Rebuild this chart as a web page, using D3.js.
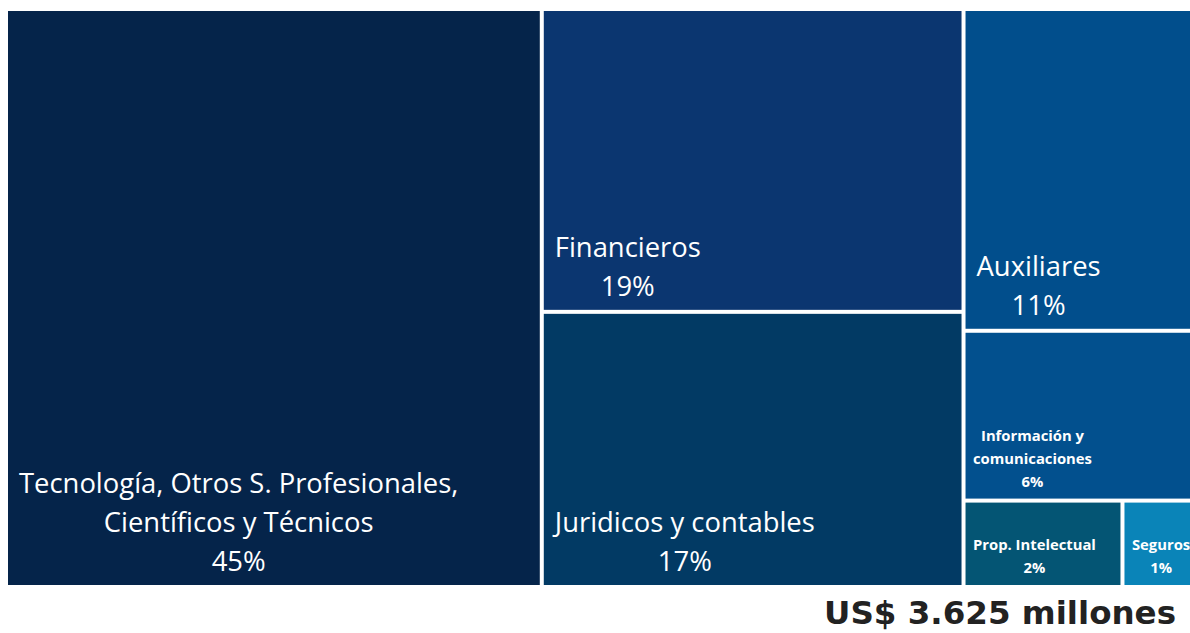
<!DOCTYPE html>
<html>
<head>
<meta charset="utf-8">
<script src="https://cdn.jsdelivr.net/npm/d3@7"></script>
<style>
  html, body { margin: 0; padding: 0; background: #ffffff; overflow: hidden; }
  svg { display: block; }
</style>
</head>
<body>
<svg id="chart" width="1190" height="633"></svg>
<script>
// ---- data ----
const categories = [
  "Tecnología, Otros S. Profesionales,\nCientíficos y Técnicos",
  "Financieros",
  "Juridicos y contables",
  "Auxiliares",
  "Información y\ncomunicaciones",
  "Prop. Intelectual",
  "Seguros"
];
const shares = [45.1, 18.6, 16.9, 10.8, 5.7, 2.0, 0.9]; // % of total exports
const colors = ["#05244a", "#0b3670", "#023a64", "#014e8c", "#02508e", "#045574", "#0a84b8"];
const sizeClass = ["big", "big", "big", "big", "small", "small", "small"];
const groups = [[0], [1, 2], [3, 4, [5, 6]]];
const totalLabel = "US$ 3.625 millones";

// ---- hierarchy ----
function build(gr) {
  if (Array.isArray(gr)) return { children: gr.map(build) };
  return { idx: gr, name: categories[gr], value: shares[gr] };
}
const root = d3.hierarchy(build(groups))
  .sum(d => d.value || 0);

const plotW = 1184, plotH = 574, offX = 8, offY = 11;
d3.treemap()
  .tile(d3.treemapSliceDice)
  .size([plotW, plotH])
  .paddingInner(4)
  .round(false)(root);

const svg = d3.select("#chart");
const gMain = svg.append("g").attr("transform", `translate(${offX},${offY})`);

const leaves = root.leaves();
const cell = gMain.selectAll("g.cell").data(leaves).enter().append("g").attr("class", "cell");

cell.append("rect")
  .attr("x", d => d.x0).attr("y", d => d.y0)
  .attr("width", d => d.x1 - d.x0).attr("height", d => d.y1 - d.y0)
  .attr("fill", d => colors[d.data.idx]);

cell.each(function(d) {
  const i = d.data.idx;
  const big = sizeClass[i] === "big";
  const fs = big ? 27.4 : 14.8;
  const lh = big ? 39 : 23;
  const pad = big ? 11 : 7.5;
  const bottomPad = big ? 14 : 12;
  const lines = categories[i].split("\n").concat([Math.round(shares[i]) + "%"]);
  const sel = d3.select(this);
  const texts = lines.map((ln, k) => sel.append("text")
    .text(ln)
    .attr("y", d.y1 - bottomPad - (lines.length - 1 - k) * lh)
    .attr("fill", "#ffffff")
    .attr("font-family", "'Open Sans', 'Noto Sans', sans-serif")
    .attr("font-weight", big ? 400 : 700)
    .attr("font-size", fs)
    .attr("text-anchor", "middle"));
  const bw = d3.max(texts, t => t.node().getComputedTextLength());
  texts.forEach(t => t.attr("x", d.x0 + pad + bw / 2));
});

svg.append("text")
  .attr("x", 824).attr("y", 624)
  .attr("font-family", "'DejaVu Sans', sans-serif")
  .attr("font-weight", 700)
  .attr("font-size", 32.5)
  .attr("fill", "#222222")
  .text(totalLabel);
</script>
</body>
</html>
